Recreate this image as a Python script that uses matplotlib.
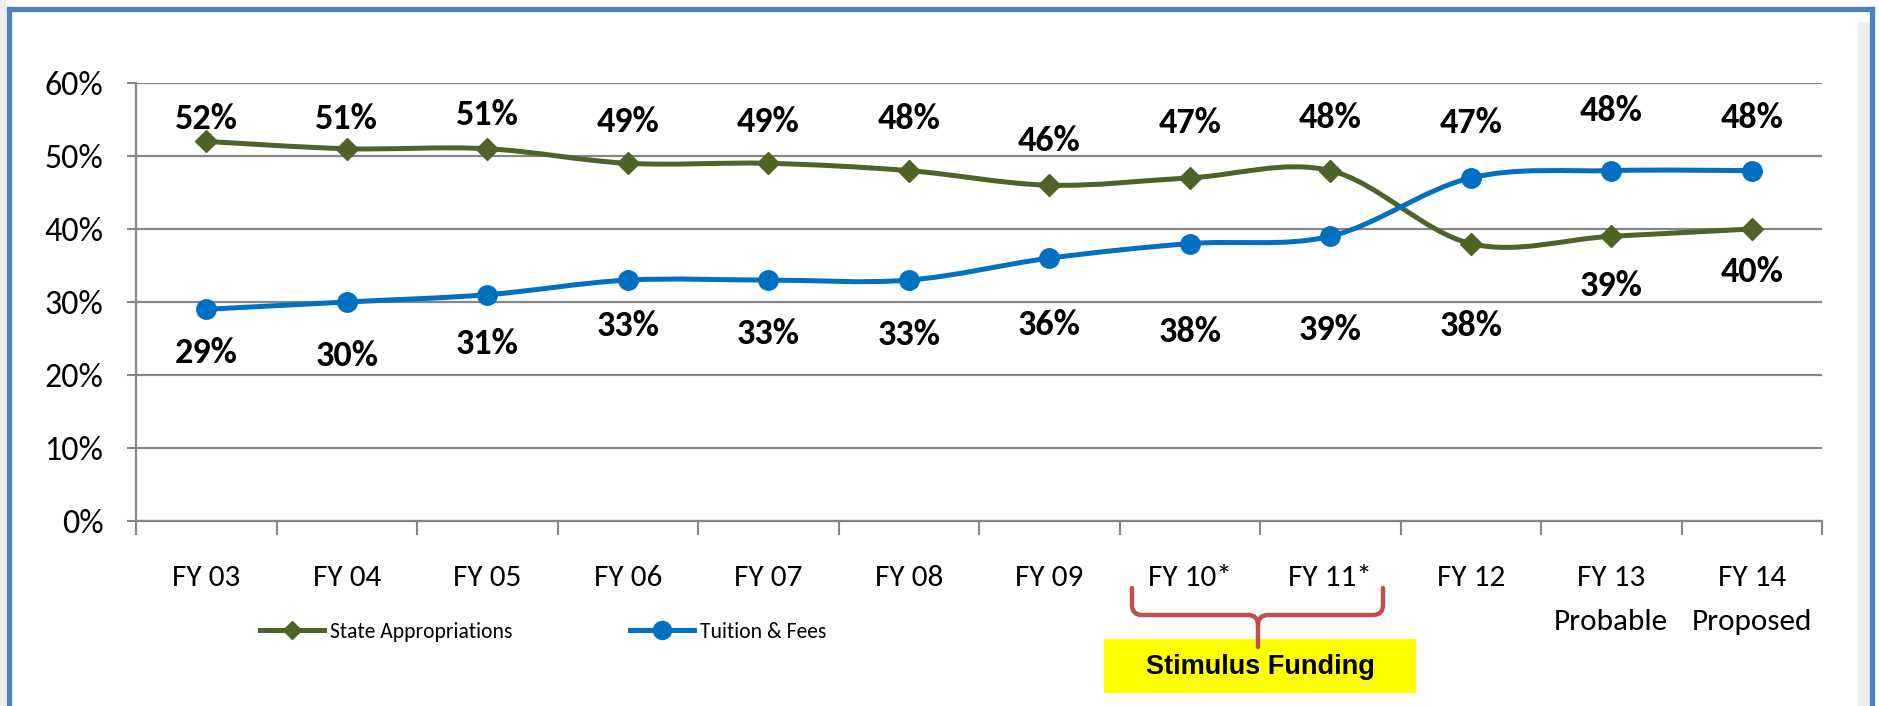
import matplotlib.pyplot as plt
from matplotlib.path import Path
from matplotlib.patches import PathPatch, Rectangle
from matplotlib.lines import Line2D
import numpy as np

# Datos del gráfico
years = ['FY 03', 'FY 04', 'FY 05', 'FY 06', 'FY 07', 'FY 08', 'FY 09',
         'FY 10*', 'FY 11*', 'FY 12', 'FY 13\nProbable', 'FY 14\nProposed']
state = [52, 51, 51, 49, 49, 48, 46, 47, 48, 38, 39, 40]
tuition = [29, 30, 31, 33, 33, 33, 36, 38, 39, 47, 48, 48]

# desplazamiento vertical de las etiquetas (pixeles, como en el original)
state_off = [22, 30, 34, 41, 41, 52, 44, 55, 53, -82, -50, -43]
tuition_off = [-44, -54, -49, -46, -54, -55, -67, -88, -94, 55, 60, 53]

GREEN = '#4F6228'
BLUE = '#0070C0'
GRID = '#868686'
W, H = 1879, 706

calibri = ['Carlito', 'DejaVu Sans']
arial = ['Liberation Sans', 'DejaVu Sans']


def fx(px):
    return px / W


def fy(py):
    return 1 - py / H


def smooth_path(xs, ys):
    # curva suavizada tipo Excel (Catmull-Rom -> Bezier)
    pts = list(zip(xs, ys))
    n = len(pts)
    verts = [pts[0]]
    codes = [Path.MOVETO]
    for i in range(n - 1):
        p0 = pts[max(i - 1, 0)]
        p1 = pts[i]
        p2 = pts[i + 1]
        p3 = pts[min(i + 2, n - 1)]
        c1 = (p1[0] + (p2[0] - p0[0]) / 6, p1[1] + (p2[1] - p0[1]) / 6)
        c2 = (p2[0] - (p3[0] - p1[0]) / 6, p2[1] - (p3[1] - p1[1]) / 6)
        verts += [c1, c2, p2]
        codes += [Path.CURVE4] * 3
    return Path(verts, codes)


fig = plt.figure(figsize=(W / 100, H / 100), dpi=100)
ax = fig.add_axes([fx(136), fy(521), fx(1822 - 136), (521 - 83) / H])

x = np.arange(len(years))

for vals, color, marker, ms in [(state, GREEN, 'D', 11), (tuition, BLUE, 'o', 14)]:
    ax.add_patch(PathPatch(smooth_path(x, vals), fill=False, edgecolor=color,
                           lw=3.6, capstyle='round', zorder=3))
    ax.plot(x, vals, linestyle='none', marker=marker, markersize=ms,
            color=color, zorder=4)

for xi, v, off in zip(x, state, state_off):
    ax.annotate(f'{v}%', (xi, v), xytext=(0, off), textcoords='offset pixels',
                ha='center', va='center', fontsize=26, fontweight='bold',
                family=calibri, zorder=5)
for xi, v, off in zip(x, tuition, tuition_off):
    ax.annotate(f'{v}%', (xi, v), xytext=(0, off), textcoords='offset pixels',
                ha='center', va='center', fontsize=26, fontweight='bold',
                family=calibri, zorder=5)

# ejes
ax.set_xlim(-0.5, len(years) - 0.5)
ax.set_ylim(0, 60)
ax.set_yticks(range(0, 61, 10))
ax.set_yticklabels([f'{v}%' for v in range(0, 61, 10)], family=calibri, fontsize=24.5)
ax.set_xticks(np.arange(-0.5, len(years), 1))
ax.set_xticklabels([])
ax.set_xticks(x, minor=True)
ax.set_xticklabels(years, minor=True, family=calibri, fontsize=22.5, linespacing=1.85)
ax.tick_params(axis='x', which='major', length=10, width=1.5, color=GRID)
ax.tick_params(axis='x', which='minor', length=0, pad=32)
ax.tick_params(axis='y', length=6.5, width=1.5, color=GRID, pad=17)
ax.yaxis.grid(True, color=GRID, lw=1.6)
ax.set_axisbelow(True)
for s in ['top', 'right']:
    ax.spines[s].set_visible(False)
for s in ['left', 'bottom']:
    ax.spines[s].set_color(GRID)
    ax.spines[s].set_linewidth(1.6)

# leyenda
handles = [Line2D([], [], color=GREEN, lw=3.6, marker='D', markersize=9),
           Line2D([], [], color=BLUE, lw=3.6, marker='o', markersize=13)]
fig.legend(handles, ['State Appropriations', 'Tuition & Fees'], loc='center left',
           bbox_to_anchor=(fx(249), fy(632)), ncol=2, frameon=False, borderpad=0,
           handlelength=2.95, handletextpad=0.3, columnspacing=5.4,
           prop={'family': calibri, 'size': 15.6})

# llave de "Stimulus Funding"
r = 10
xl, xr, xc = 1132, 1383, 1258
yt, yh, yb = 588, 615, 647
brace = [(xl, yt), (xl, yh - r), (xl, yh), (xl + r, yh), (xc - r, yh), (xc, yh),
         (xc, yh + r), (xc, yb), (xc, yh + r), (xc, yh), (xc + r, yh), (xr - r, yh),
         (xr, yh), (xr, yh - r), (xr, yt)]
bcodes = [Path.MOVETO, Path.LINETO, Path.CURVE3, Path.CURVE3, Path.LINETO,
          Path.CURVE3, Path.CURVE3, Path.LINETO, Path.MOVETO, Path.CURVE3,
          Path.CURVE3, Path.LINETO, Path.CURVE3, Path.CURVE3, Path.LINETO]
fig.add_artist(Rectangle((fx(1104), fy(693)), fx(1416 - 1104), (693 - 639) / H,
                         transform=fig.transFigure, facecolor='#FFFF00',
                         edgecolor='none', zorder=5))
fig.text(fx(1260), fy(667), 'Stimulus Funding', ha='center', va='center',
         fontsize=19.5, fontweight='bold', family=arial, zorder=6)
fig.add_artist(PathPatch(Path([(fx(a), fy(b)) for a, b in brace], bcodes),
                         transform=fig.transFigure, fill=False,
                         edgecolor='#C0504D', lw=3.2, capstyle='round', zorder=7))

# marco azul
fig.add_artist(Rectangle((fx(1858), 0), fx(12), fy(22), transform=fig.transFigure,
                         facecolor='#EDEDED', edgecolor='none', zorder=1))
fig.add_artist(Rectangle((0, 0), fx(6), 1, transform=fig.transFigure,
                         facecolor='#EDEDED', edgecolor='none', zorder=1))
for xs, ys in [([8.5, 8.5], [706, 8.5]), ([8.5, 1872], [8.5, 8.5]),
               ([1872, 1872], [8.5, 706])]:
    fig.add_artist(Line2D([fx(v) for v in xs], [fy(v) for v in ys],
                          transform=fig.transFigure, color='#4F81BD', lw=3.8,
                          zorder=8))

fig.savefig('out.png', dpi=100)
